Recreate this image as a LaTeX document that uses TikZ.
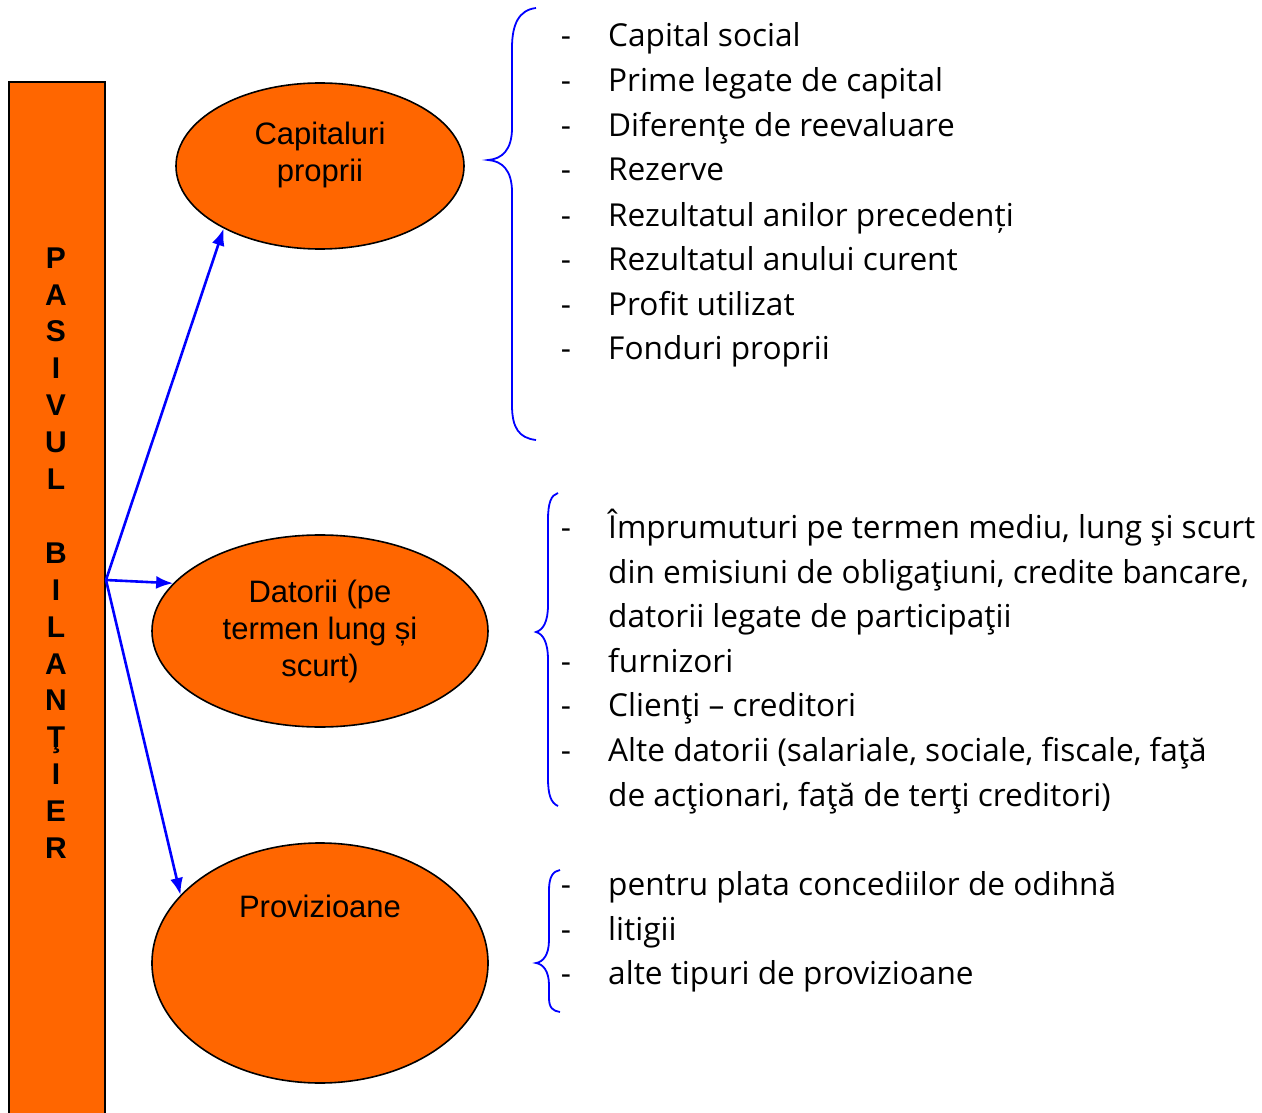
\documentclass[tikz,border=0pt]{standalone}
\usepackage{fontspec}
\setmainfont{Liberation Sans}
\newfontfamily\listfont{Open Sans}
\usetikzlibrary{shapes.geometric,arrows.meta}
\definecolor{orng}{HTML}{FF6600}
\definecolor{blu}{HTML}{0000FF}
\tikzset{
  bubble/.style={ellipse,draw=black,line width=1.6pt,fill=orng,inner sep=0pt},
  bubtext/.style={font=\fontsize{31}{37}\selectfont,align=center,inner sep=0pt},
  itemtext/.style={font=\listfont\fontsize{31.6}{38}\selectfont,anchor=base west,inner sep=0pt},
  dashtext/.style={font=\listfont\fontsize{31.6}{38}\selectfont,anchor=base,inner sep=0pt},
  conn/.style={blu,line width=2.6pt,-{Latex[length=17pt,width=13pt]}},
  bracestyle/.style={blu,line width=1.8pt},
}
\begin{document}
\begin{tikzpicture}[x=1pt,y=-1pt]
\useasboundingbox (0,0) rectangle (1262,1113);
% bar
\node[draw=black,line width=2.2pt,fill=orng,minimum width=96pt,minimum height=1060pt,anchor=north west,inner sep=0pt] (bar) at (8,81) {};
\node[font=\bfseries\fontsize{30}{36.9}\selectfont,align=center,inner sep=0pt] (bartext) at (56,553)
  {P\\A\\S\\I\\V\\U\\L\\ \\B\\I\\L\\A\\N\\Ţ\\I\\E\\R};
% ellipses
\node[bubble,minimum width=288pt,minimum height=166pt] (e1) at (320,166) {};
\node[bubble,minimum width=336pt,minimum height=192pt] (e2) at (320,631) {};
\node[bubble,minimum width=336pt,minimum height=240pt] (e3) at (320,963) {};
\node[bubtext] (t1) at (320,155) {Capitaluri\\proprii};
\node[bubtext] (t2) at (320,631) {Datorii (pe\\termen lung și\\scurt)};
\node[bubtext,anchor=base] (t3) at (320,917) {Provizioane};
% arrows
\coordinate (src) at (106,580);
\draw[conn] (src) -- (e1.213);
\draw[conn] (src) -- (e2.162);
\draw[conn] (src) -- (e3.154);
% braces
\draw[bracestyle] (536,8) .. controls (519,10) and (512,24) .. (512,48) -- (512,128)
  .. controls (512,150) and (502,159) .. (488,160)
  .. controls (502,161) and (512,170) .. (512,192) -- (512,405)
  .. controls (512,428) and (519,438) .. (536,440);
\draw[bracestyle] (558,493) .. controls (551,495) and (548,503) .. (548,520) -- (548,605)
  .. controls (548,622) and (543,630) .. (536,632)
  .. controls (543,634) and (548,642) .. (548,660) -- (548,778)
  .. controls (548,795) and (551,803) .. (558,806);
\draw[bracestyle] (560,870) .. controls (553,871) and (549,877) .. (549,890) -- (549,940)
  .. controls (549,955) and (543,962) .. (536,963)
  .. controls (543,964) and (549,971) .. (549,985) -- (549,998)
  .. controls (549,1008) and (553,1011) .. (560,1012);
% list 1
\foreach \y/\txt [count=\i] in {47/Capital social,92/Prime legate de capital,137/Diferenţe de reevaluare,181/Rezerve,226/Rezultatul anilor precedenți,270/Rezultatul anului curent,315/Profit utilizat,359/Fonduri proprii}{
  \node[dashtext] (da\i) at (566,\y) {-};
  \node[itemtext] (a\i) at (608,\y) {\txt};
}
% list 2
\node[dashtext] (db1) at (566,538) {-};
\node[itemtext] (b1) at (608,538) {Împrumuturi pe termen mediu, lung şi scurt};
\node[itemtext] (b2) at (608,583) {din emisiuni de obligaţiuni, credite bancare,};
\node[itemtext] (b3) at (608,627) {datorii legate de participaţii};
\node[dashtext] (db4) at (566,672) {-};
\node[itemtext] (b4) at (608,672) {furnizori};
\node[dashtext] (db5) at (566,716) {-};
\node[itemtext] (b5) at (608,716) {Clienţi – creditori};
\node[dashtext] (db6) at (566,761) {-};
\node[itemtext] (b6) at (608,761) {Alte datorii (salariale, sociale, fiscale, faţă};
\node[itemtext] (b7) at (608,806) {de acţionari, faţă de terţi creditori)};
% list 3
\node[dashtext] (dc1) at (566,895) {-};
\node[itemtext] (c1) at (608,895) {pentru plata concediilor de odihnă};
\node[dashtext] (dc2) at (566,940) {-};
\node[itemtext] (c2) at (608,940) {litigii};
\node[dashtext] (dc3) at (566,984) {-};
\node[itemtext] (c3) at (608,984) {alte tipuri de provizioane};
\end{tikzpicture}
\end{document}
